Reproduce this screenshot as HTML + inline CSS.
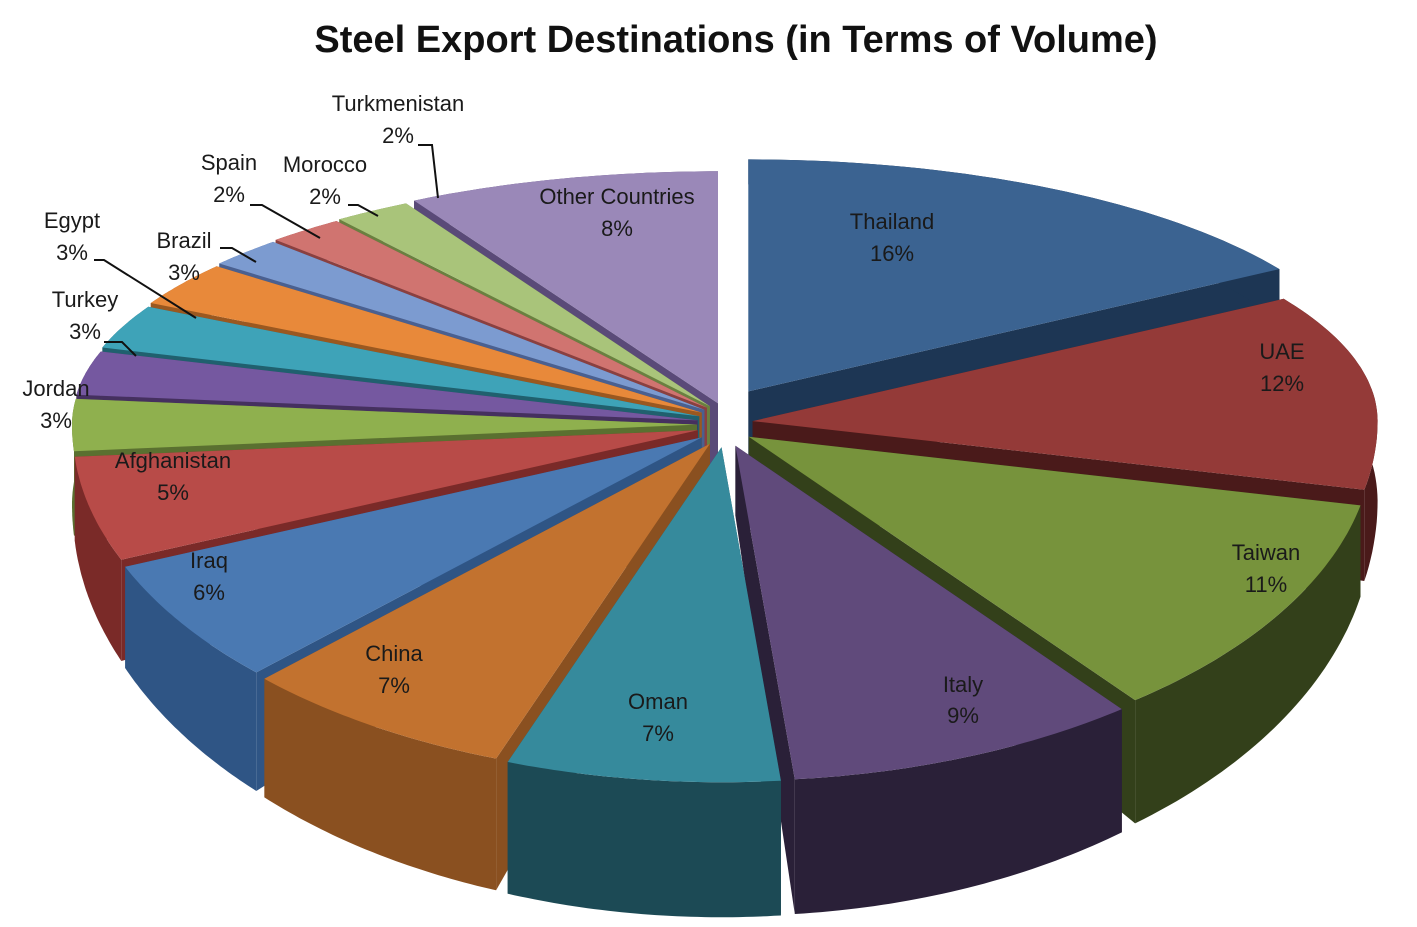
<!DOCTYPE html>
<html><head><meta charset="utf-8"><style>
html,body{margin:0;padding:0;background:#fff;}
svg{display:block;}
text{font-family:"Liberation Sans",sans-serif;}
.l{font-size:22px;fill:#1a1a1a;text-anchor:middle;}
</style></head><body>
<svg id="s" width="1417" height="927" viewBox="0 0 1417 927" xmlns="http://www.w3.org/2000/svg">
<text x="736" y="52" text-anchor="middle" style="font-size:38px;font-weight:bold;fill:#111">Steel Export Destinations (in Terms of Volume)</text>
<g id="pie"></g>
<g stroke="#111" stroke-width="2" fill="none">
<polyline points="418,145 432,145 438,198"/>
<polyline points="348,205 358,205 378,216"/>
<polyline points="250,205 262,205 320,238"/>
<polyline points="220,248 232,248 256,262"/>
<polyline points="94,260 104,260 196,318"/>
<polyline points="104,342 122,342 136,356"/>
</g>
<g class="lbl">
<text class="l" x="892" y="229">Thailand</text><text class="l" x="892" y="261">16%</text>
<text class="l" x="1282" y="359">UAE</text><text class="l" x="1282" y="391">12%</text>
<text class="l" x="1266" y="560">Taiwan</text><text class="l" x="1266" y="592">11%</text>
<text class="l" x="963" y="692">Italy</text><text class="l" x="963" y="723">9%</text>
<text class="l" x="658" y="709">Oman</text><text class="l" x="658" y="741">7%</text>
<text class="l" x="394" y="661">China</text><text class="l" x="394" y="693">7%</text>
<text class="l" x="209" y="568">Iraq</text><text class="l" x="209" y="600">6%</text>
<text class="l" x="173" y="468">Afghanistan</text><text class="l" x="173" y="500">5%</text>
<text class="l" x="56" y="396">Jordan</text><text class="l" x="56" y="428">3%</text>
<text class="l" x="85" y="307">Turkey</text><text class="l" x="85" y="339">3%</text>
<text class="l" x="72" y="228">Egypt</text><text class="l" x="72" y="260">3%</text>
<text class="l" x="184" y="248">Brazil</text><text class="l" x="184" y="280">3%</text>
<text class="l" x="229" y="170">Spain</text><text class="l" x="229" y="202">2%</text>
<text class="l" x="325" y="172">Morocco</text><text class="l" x="325" y="204">2%</text>
<text class="l" x="398" y="111">Turkmenistan</text><text class="l" x="398" y="143">2%</text>
<text class="l" x="617" y="204">Other Countries</text><text class="l" x="617" y="236">8%</text>
</g>
</svg>
<script>
var data=[[16,"#3b6391","#1d3654"],[12,"#943a38","#4a1a1a"],[11,"#77933c","#33401a"],[9,"#604a7b","#2a2038"],[7,"#368a9c","#1c4a55"],[7,"#c2722f","#8a5020"],[6,"#4a79b2","#2f5585"],[5,"#b84b48","#7a2a28"],[3,"#8fb04e","#5a7030"],[3,"#7558a0","#45305f"],[3,"#3ea3b8","#20606e"],[3,"#e8893a","#9a5820"],[2,"#7c9bd0","#4a6090"],[2,"#d07470","#8a4040"],[2,"#a9c47a","#6a8040"],[8,"#9a88b8","#5a4a78"]];
var cx=725,cy=425,rx=625,tot=99,ex=28;
function pt(a,ox,oy,dz){var s=Math.sin(a);var ry=s<0?232:335;return [ox+rx*Math.cos(a),oy+ry*s+dz];}
function dep(a){return 80+55*Math.sin(a);}
var sl=[],a=-Math.PI/2;
data.forEach(function(d){var a2=a+d[0]/tot*2*Math.PI;sl.push({a1:a,a2:a2,c:d[1],dc:d[2]});a=a2;});
sl.forEach(function(s,i){var m=(s.a1+s.a2)/2;var e=(i==0)?48:ex;s.ox=cx+e*Math.cos(m);s.oy=cy+e*Math.sin(m)*0.8;s.m=m;});
sl.sort(function(p,q){return Math.sin(p.m)-Math.sin(q.m);});
var out="";
function P(pts){return pts.map(function(p){return p[0].toFixed(1)+","+p[1].toFixed(1);}).join(" ");}
sl.forEach(function(s){
 var N=40,top=[],bot=[];
 for(var i=0;i<=N;i++){var t=s.a1+(s.a2-s.a1)*i/N;top.push(pt(t,s.ox,s.oy,0));bot.push(pt(t,s.ox,s.oy,dep(t)));}
 var c0=[s.ox,s.oy],cd=[s.ox,s.oy+70];
 out+='<polygon fill="'+s.dc+'" points="'+P([c0,top[0],bot[0],cd])+'"/>';
 out+='<polygon fill="'+s.dc+'" points="'+P([c0,top[N],bot[N],cd])+'"/>';
 out+='<polygon fill="'+s.dc+'" points="'+P(top.concat(bot.slice().reverse()))+'"/>';
 out+='<polygon fill="'+s.c+'" points="'+P([c0].concat(top))+'"/>';
});
document.getElementById("pie").innerHTML=out;
</script>
</body></html>
